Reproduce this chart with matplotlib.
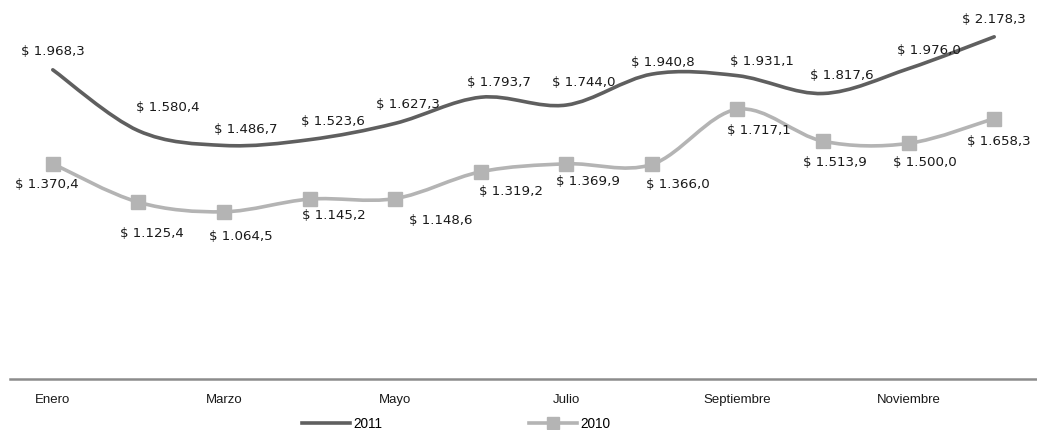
import numpy as np
import matplotlib
matplotlib.use("Agg")
import matplotlib.pyplot as plt
from matplotlib.path import Path
from matplotlib.patches import PathPatch
from matplotlib.lines import Line2D

# Data
months = ["Enero", "Febrero", "Marzo", "Abril", "Mayo", "Junio", "Julio",
          "Agosto", "Septiembre", "Octubre", "Noviembre", "Diciembre"]
v2011 = [1968.3, 1580.4, 1486.7, 1523.6, 1627.3, 1793.7, 1744.0,
         1940.8, 1931.1, 1817.6, 1976.0, 2178.3]
v2010 = [1370.4, 1125.4, 1064.5, 1145.2, 1148.6, 1319.2, 1369.9,
         1366.0, 1717.1, 1513.9, 1500.0, 1658.3]

# label offsets (pixels) as placed in the original
off2011 = [(0, 18), (29, 23), (22, 16), (23, 18), (13, 19), (18, 15),
           (17, 23), (11, 12), (24, 14), (19, 18), (20, 18), (0, 17)]
off2010 = [(-6, -21), (13, -31), (17, -25), (24, -16), (46, -22), (30, -20),
           (22, -18), (26, -20), (21, -21), (12, -21), (16, -19), (5, -23)]

C11 = "#5f5f5f"
C10 = "#b4b4b4"


def fmt(v):
    s = f"{v:,.1f}".replace(",", "X").replace(".", ",").replace("X", ".")
    return "$ " + s


def smooth_path(xs, ys):
    # Excel-like smoothing: cubic Bezier through each point
    pts = np.column_stack([xs, ys]).astype(float)
    n = len(pts)
    verts = [pts[0]]
    codes = [Path.MOVETO]
    for i in range(n - 1):
        p0 = pts[max(i - 1, 0)]
        p1 = pts[i]
        p2 = pts[i + 1]
        p3 = pts[min(i + 2, n - 1)]
        c1 = p1 + (p2 - p0) / 6.0
        c2 = p2 - (p3 - p1) / 6.0
        verts += [c1, c2, p2]
        codes += [Path.CURVE4] * 3
    return Path(verts, codes)


fig = plt.figure(figsize=(10.37, 4.3), dpi=100)
ax = fig.add_axes([10 / 1037, 51 / 430, 1027 / 1037, 377 / 430])
x = np.arange(len(months))

ax.add_patch(PathPatch(smooth_path(x, v2011), fc="none", ec=C11, lw=2.6,
                       capstyle="round", zorder=3))
ax.add_patch(PathPatch(smooth_path(x, v2010), fc="none", ec=C10, lw=2.6,
                       capstyle="round", zorder=3))
ax.plot(x, v2010, ls="none", marker="s", ms=10.5, color=C10, zorder=4)

for vals, offs in [(v2011, off2011), (v2010, off2010)]:
    for xi, v, (dx, dy) in zip(x, vals, offs):
        ax.annotate(fmt(v), (xi, v), xytext=(dx * 0.72, dy * 0.72),
                    textcoords="offset points", ha="center", va="center",
                    fontsize=9.6, color="#1a1a1a")

ax.set_xlim(-0.5, len(months) - 0.5)
ax.set_ylim(0, 2400)
ax.set_yticks([])
ax.set_xticks(x[::2])
ax.set_xticklabels(months[::2], fontsize=9.5, family="Liberation Sans",
                   color="#1a1a1a")
ax.tick_params(axis="x", length=0, pad=11)
for s in ["top", "right", "left"]:
    ax.spines[s].set_visible(False)
ax.spines["bottom"].set_color("#8c8c8c")
ax.spines["bottom"].set_linewidth(1.8)

handles = [Line2D([], [], color=C11, lw=2.6),
           Line2D([], [], color=C10, lw=2.6, marker="s", ms=8)]
fig.legend(handles, ["2011", "2010"], loc="center",
           bbox_to_anchor=(456 / 1037, 1 - 424 / 430),
           ncol=2, frameon=False, handlelength=3.5,
           handletextpad=0.25, columnspacing=10.8,
           prop={"family": "Liberation Sans", "size": 9.8})

fig.savefig("out.png", dpi=100)
